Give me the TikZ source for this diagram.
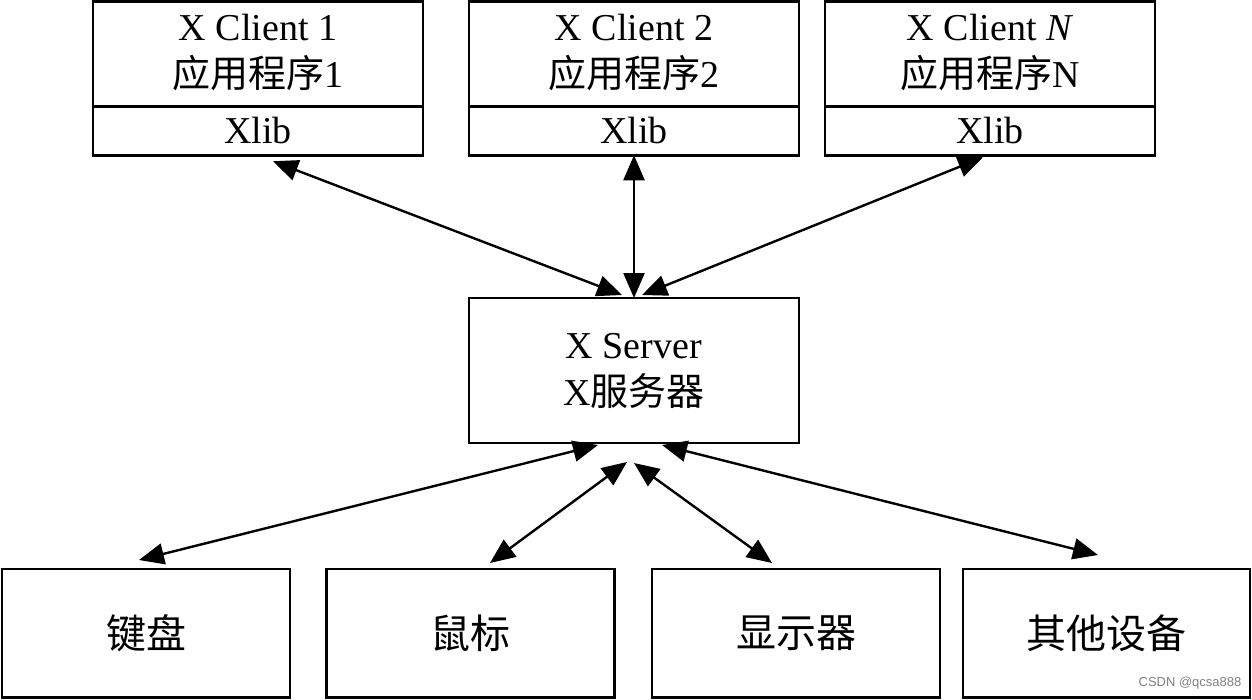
\documentclass[tikz,border=0pt]{standalone}
\usepackage{fontspec}
\setmainfont{Liberation Serif}
\newfontfamily\cjk{Noto Sans CJK SC}
\newfontfamily\wmfont{Liberation Sans}
\usepackage{tikz}
\usetikzlibrary{arrows.meta}

\begin{document}
\begin{tikzpicture}[x=1pt, y=-1pt, line width=2.5pt,
        box/.style={draw, rectangle, inner sep=0pt, outer sep=0pt, align=center, font=\fontsize{38}{47}\selectfont},
        client/.style={box, minimum width=330pt, minimum height=105pt, text depth=6pt},
        lib/.style={box, minimum width=330pt, minimum height=49pt, anchor=north},
        device/.style={box, minimum width=288pt, minimum height=128.5pt, font=\fontsize{40}{48}\selectfont\cjk},
        link/.style={{Triangle[length=25pt,width=21pt]}-{Triangle[length=25pt,width=21pt]}, line width=2.4pt}]
        \useasboundingbox (0,0) rectangle (1252,699);
        % clients, each with its Xlib part
        \node[client] (c1) at (258,53.75) {X Client 1\\{\cjk 应用程序}1};
        \node[lib] (c1lib) at (c1.south) {Xlib};
        \node[client] (c2) at (634,53.75) {X Client 2\\{\cjk 应用程序}2};
        \node[lib] (c2lib) at (c2.south) {Xlib};
        \node[client] (cN) at (990,53.75) {X Client \textit{N}\\{\cjk 应用程序}N};
        \node[lib] (cNlib) at (cN.south) {Xlib};
        % server
        \node[box, minimum width=330pt, minimum height=145pt] (srv) at (634,370.5) {X Server\\X{\cjk 服务器}};
        % devices
        \node[device] (kbd) at (146,633.25) {键盘};
        \node[device] (mouse) at (470.5,633.25) {鼠标};
        \node[device] (disp) at (796,633.25) {显示器};
        \node[device, minimum width=287pt] (other) at (1106.5,633.25) {其他设备};
        % client <-> server
        \draw[link] ([xshift=15pt,yshift=-6pt]c1lib.south) -- ([xshift=-12pt,yshift=3pt]srv.north);
        \draw[link] (c2lib.south) -- (srv.north);
        \draw[link] ([xshift=-7pt,yshift=-2pt]cNlib.south) -- ([xshift=8pt,yshift=3pt]srv.north);
        % server <-> devices
        \draw[link] ([xshift=-36pt,yshift=-2pt]srv.south) -- ([xshift=-7pt,yshift=9pt]kbd.north);
        \draw[link] ([xshift=-7pt,yshift=-19pt]srv.south) -- ([xshift=19.5pt,yshift=6pt]mouse.north);
        \draw[link] ([xshift=0pt,yshift=-20pt]srv.south) -- ([xshift=-24pt,yshift=6pt]disp.north);
        \draw[link] ([xshift=28pt,yshift=-2pt]srv.south) -- ([xshift=-8.5pt,yshift=14pt]other.north);
        \node[font=\wmfont\fontsize{13}{15}\selectfont, text=gray] (wm) at (1190,683) {CSDN @qcsa888};
    \end{tikzpicture}
\end{document}
